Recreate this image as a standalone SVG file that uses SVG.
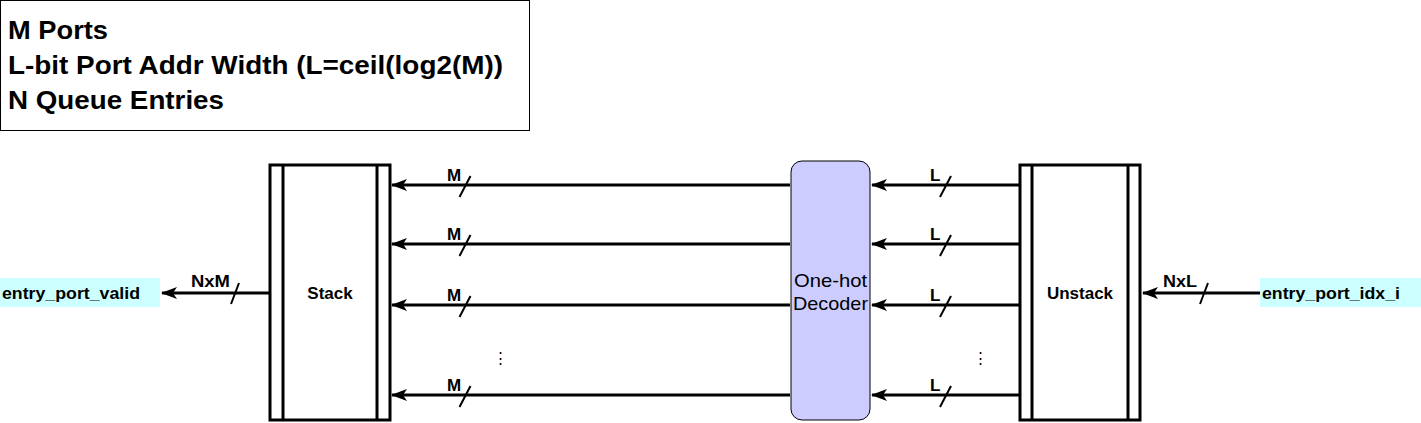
<svg xmlns="http://www.w3.org/2000/svg" width="1421" height="423" viewBox="0 0 1421 423">
<style>
.t{font-family:"Liberation Sans",Arial,sans-serif;fill:#000}
.b{font-weight:bold}
.w{stroke:#000;stroke-width:3;fill:none}
.s{stroke:#000;stroke-width:2;fill:none}
.box{fill:#fff;stroke:#000;stroke-width:3}
</style>
<defs>
<marker id="ah" markerWidth="16" markerHeight="12" viewBox="0 0 16 12" refX="15" refY="6" orient="auto" markerUnits="userSpaceOnUse">
<path d="M16,6 L0,0 L4,6 L0,12 Z" fill="#000"/>
</marker>
</defs>
<g id="legend">
<rect x="0.5" y="0.5" width="529" height="130" fill="#fff" stroke="#000" stroke-width="1"/>
<text class="t b" x="8" y="39" font-size="26" textLength="100" lengthAdjust="spacingAndGlyphs">M Ports</text>
<text class="t b" x="8" y="74" font-size="26" textLength="495" lengthAdjust="spacingAndGlyphs">L-bit Port Addr Width (L=ceil(log2(M))</text>
<text class="t b" x="8" y="109" font-size="26" textLength="216" lengthAdjust="spacingAndGlyphs">N Queue Entries</text>
</g>
<g id="stack">
<rect class="box" x="270" y="165" width="120" height="255"/>
<line class="w" x1="283" y1="165" x2="283" y2="420"/>
<line class="w" x1="377" y1="165" x2="377" y2="420"/>
<text class="t b" x="330" y="299" font-size="17" text-anchor="middle">Stack</text>
</g>
<g id="unstack">
<rect class="box" x="1020" y="165" width="120" height="255"/>
<line class="w" x1="1032" y1="165" x2="1032" y2="420"/>
<line class="w" x1="1128" y1="165" x2="1128" y2="420"/>
<text class="t b" x="1080" y="299" font-size="17" text-anchor="middle">Unstack</text>
</g>
<g id="decoder">
<rect x="791" y="161" width="79" height="259" rx="11" ry="11" fill="#ccccff" stroke="#000" stroke-width="1"/>
<text class="t" x="830.5" y="287" font-size="19" text-anchor="middle" textLength="73" lengthAdjust="spacingAndGlyphs">One-hot</text>
<text class="t" x="830.5" y="310" font-size="19" text-anchor="middle" textLength="75" lengthAdjust="spacingAndGlyphs">Decoder</text>
</g>
<g id="in-label">
<rect x="1260" y="278" width="161" height="29" fill="#ccffff"/>
<text class="t b" x="1262" y="299" font-size="17" textLength="138" lengthAdjust="spacingAndGlyphs">entry_port_idx_i</text>
</g>
<g id="out-label">
<rect x="0" y="278" width="160" height="29" fill="#ccffff"/>
<text class="t b" x="2" y="299" font-size="17" textLength="138" lengthAdjust="spacingAndGlyphs">entry_port_valid</text>
</g>
<g id="connectors">
<line class="w" x1="790" y1="185" x2="392" y2="185" marker-end="url(#ah)"/>
<line class="w" x1="790" y1="244" x2="392" y2="244" marker-end="url(#ah)"/>
<line class="w" x1="790" y1="305" x2="392" y2="305" marker-end="url(#ah)"/>
<line class="w" x1="790" y1="395" x2="392" y2="395" marker-end="url(#ah)"/>
<line class="w" x1="1020" y1="185" x2="872" y2="185" marker-end="url(#ah)"/>
<line class="w" x1="1020" y1="244" x2="872" y2="244" marker-end="url(#ah)"/>
<line class="w" x1="1020" y1="305" x2="872" y2="305" marker-end="url(#ah)"/>
<line class="w" x1="1020" y1="395" x2="872" y2="395" marker-end="url(#ah)"/>
<line class="w" x1="270" y1="293" x2="162" y2="293" marker-end="url(#ah)"/>
<line class="w" x1="1260" y1="293" x2="1143" y2="293" marker-end="url(#ah)"/>
<g class="s">
<line x1="459.5" y1="197" x2="470.5" y2="176"/>
<line x1="459.5" y1="256" x2="470.5" y2="235"/>
<line x1="459.5" y1="317" x2="470.5" y2="296"/>
<line x1="459.5" y1="407" x2="470.5" y2="386"/>
<line x1="940" y1="197" x2="951" y2="176"/>
<line x1="940" y1="256" x2="951" y2="235"/>
<line x1="940" y1="317" x2="951" y2="296"/>
<line x1="940" y1="407" x2="951" y2="386"/>
<line x1="231" y1="304" x2="239" y2="283"/>
<line x1="1200" y1="304" x2="1208" y2="283"/>
</g>
<g class="t b" font-size="17">
<text x="447" y="181">M</text>
<text x="447" y="240">M</text>
<text x="447" y="301">M</text>
<text x="447" y="391">M</text>
<text x="930" y="181">L</text>
<text x="930" y="240">L</text>
<text x="930" y="301">L</text>
<text x="930" y="391">L</text>
<text x="191" y="287" textLength="39" lengthAdjust="spacingAndGlyphs">NxM</text>
<text x="1163" y="287" textLength="34" lengthAdjust="spacingAndGlyphs">NxL</text>
</g>
<text class="t" x="500" y="363" font-size="15" text-anchor="middle">⋮</text>
<text class="t" x="980" y="363" font-size="15" text-anchor="middle">⋮</text>
</g>
</svg>
